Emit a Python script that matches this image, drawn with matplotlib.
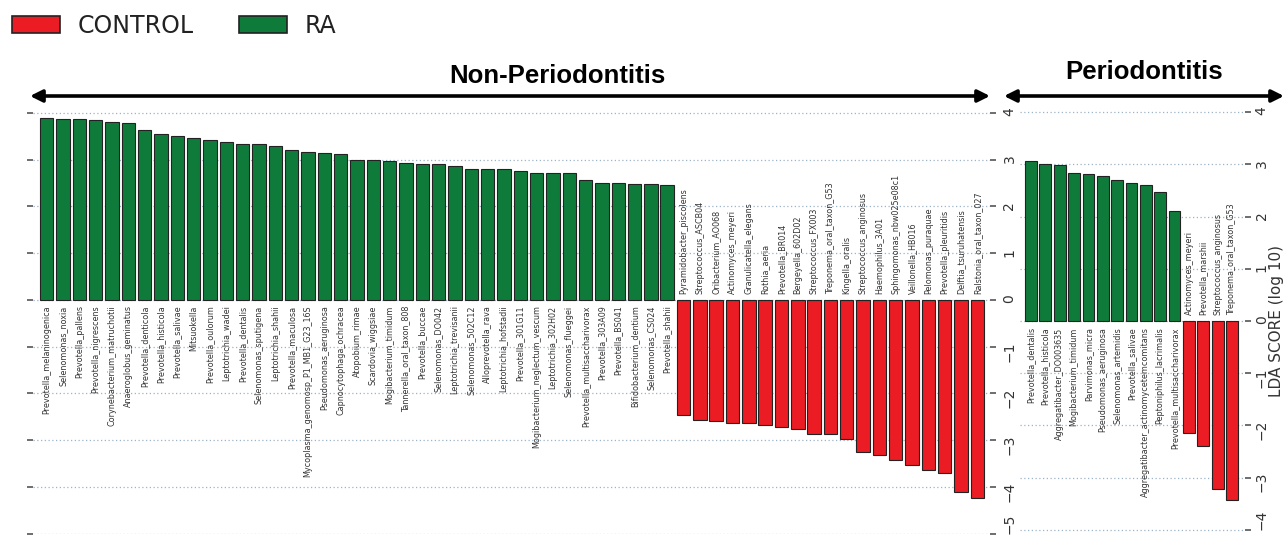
import matplotlib
matplotlib.use('Agg')
from matplotlib import pyplot as plt
from matplotlib.patches import Patch

# Non-Periodontitis panel
np_ra_names = ['Prevotella_melaninogenica', 'Selenomonas_noxia', 'Prevotella_pallens',
               'Prevotella_nigrescens', 'Corynebacterium_matruchotii', 'Anaeroglobus_geminatus',
               'Prevotella_denticola', 'Prevotella_histicola', 'Prevotella_salivae', 'Mitsuokella',
               'Prevotella_oulorum', 'Leptotrichia_wadei', 'Prevotella_dentalis',
               'Selenomonas_sputigena', 'Leptotrichia_shahii', 'Prevotella_maculosa',
               'Mycoplasma_genomosp_P1_MB1_G23_16S', 'Pseudomonas_aeruginosa',
               'Capnocytophaga_ochracea', 'Atopobium_rimae', 'Scardovia_wiggsiae',
               'Mogibacterium_timidum', 'Tannerella_oral_taxon_808', 'Prevotella_buccae',
               'Selenomonas_DO042', 'Leptotrichia_trevisanii', 'Selenomonas_502C12',
               'Alloprevotella_rava', 'Leptotrichia_hofstadii', 'Prevotella_301G11',
               'Mogibacterium_neglectum_vescum', 'Leptotrichia_302H02', 'Selenomonas_flueggei',
               'Prevotella_multisaccharivorax', 'Prevotella_303A09', 'Prevotella_BS041',
               'Bifidobacterium_dentium', 'Selenomonas_CS024', 'Prevotella_shahii']
np_ra_lda = [3.89, 3.87, 3.86, 3.85, 3.81, 3.78, 3.63, 3.56, 3.51, 3.47, 3.43, 3.38, 3.34,
             3.33, 3.30, 3.20, 3.16, 3.15, 3.12, 3.00, 2.99, 2.97, 2.93, 2.91, 2.90, 2.87,
             2.81, 2.80, 2.80, 2.75, 2.72, 2.71, 2.71, 2.57, 2.51, 2.51, 2.48, 2.48, 2.45]
np_ctrl_names = ['Pyramidobacter_piscolens', 'Streptococcus_ASCB04', 'Oribacterium_AO068',
                 'Actinomyces_meyeri', 'Granulicatella_elegans', 'Rothia_aeria',
                 'Prevotella_BR014', 'Bergeyella_602D02', 'Streptococcus_FX003',
                 'Treponema_oral_taxon_G53', 'Kingella_oralis', 'Streptococcus_anginosus',
                 'Haemophilus_3A01', 'Sphingomonas_nbw025e08c1', 'Veillonella_HB016',
                 'Pelomonas_puraquae', 'Prevotella_pleuritidis', 'Delftia_tsuruhatensis',
                 'Ralstonia_oral_taxon_027']
np_ctrl_lda = [-2.47, -2.58, -2.59, -2.63, -2.63, -2.67, -2.72, -2.77, -2.88, -2.88, -2.97,
               -3.25, -3.33, -3.42, -3.54, -3.63, -3.71, -4.12, -4.23]

# Periodontitis panel
p_ra_names = ['Prevotella_dentalis', 'Prevotella_histicola', 'Aggregatibacter_DO003635',
              'Mogibacterium_timidum', 'Parvimonas_micra', 'Pseudomonas_aeruginosa',
              'Selenomonas_artemidis', 'Prevotella_salivae',
              'Aggregatibacter_actinomycetemcomitans', 'Peptoniphilus_lacrimalis',
              'Prevotella_multisaccharivorax']
p_ra_lda = [3.07, 3.00, 2.98, 2.83, 2.81, 2.78, 2.70, 2.64, 2.60, 2.48, 2.10]
p_ctrl_names = ['Actinomyces_meyeri', 'Prevotella_marshii', 'Streptococcus_anginosus',
                'Treponema_oral_taxon_G53']
p_ctrl_lda = [-2.15, -2.40, -3.21, -3.42]

GREEN = '#0f7b3b'
RED = '#ec1c24'
GRID = '#9db3c6'

W, H = 1287, 535
fig = plt.figure(figsize=(W / 100, H / 100), dpi=100)


def panel(rect, ra_names, ra_lda, ctrl_names, ctrl_lda, xlim, ylim, yticks):
    ax = fig.add_axes(rect)
    names = ra_names + ctrl_names
    vals = ra_lda + ctrl_lda
    colors = [GREEN] * len(ra_lda) + [RED] * len(ctrl_lda)
    x = list(range(len(vals)))
    ax.bar(x, vals, width=0.82, color=colors, edgecolor='#222222', linewidth=0.8, zorder=3)
    for i, (n, v) in enumerate(zip(names, vals)):
        if v > 0:
            ax.text(i, -0.12, n, rotation=90, ha='center', va='top', fontsize=5.8,
                    color='#333333', zorder=4)
        else:
            ax.text(i, 0.12, n, rotation=90, ha='center', va='bottom', fontsize=5.8,
                    color='#333333', zorder=4)
    ax.set_xlim(*xlim)
    ax.set_ylim(*ylim)
    ax.set_yticks(list(yticks))
    ax.set_xticks([])
    ax.grid(axis='y', color=GRID, linestyle=(0, (1, 2)), linewidth=0.9, zorder=0)
    for s in ax.spines.values():
        s.set_visible(False)
    ax.tick_params(axis='y', labelrotation=90, labelsize=10, labelcolor='#333333',
                   color='#555555', length=4, width=1.2)
    return ax


ax1 = panel([33 / W, 0.001, 957 / W, 0.801], np_ra_names, np_ra_lda,
            np_ctrl_names, np_ctrl_lda, (-0.84, 57.77), (-5.02, 4.15), range(-5, 5))
ax1.tick_params(axis='y', left=True, labelleft=False, right=True, labelright=True, pad=5)

ax2 = panel([1020 / W, 0.0, 225 / W, 0.8], p_ra_names, p_ra_lda,
            p_ctrl_names, p_ctrl_lda, (-0.76, 14.9), (-4.1, 4.1), range(-4, 5))
ax2.tick_params(axis='y', left=False, labelleft=False, right=True, labelright=True, pad=3)
ax2.yaxis.set_label_position('right')
ax2.set_ylabel('LDA SCORE (log 10)', fontsize=11, color='#333333', rotation=90, labelpad=0)

# bottom tick labels sit just above the lower edge, as in the reference
fig.canvas.draw()
for ax in (ax1, ax2):
    ax.get_yticklabels(which='major')[0].set_va('bottom')
    for t in ax.yaxis.get_major_ticks()[:1]:
        t.label2.set_va('bottom')

# overlay in pixel coords for the group arrows and titles
ov = fig.add_axes([0, 0, 1, 1], facecolor='none')
ov.set_xlim(0, W)
ov.set_ylim(H, 0)
ov.axis('off')
arrow = dict(arrowstyle='<|-|>', lw=2.6, color='black', mutation_scale=18,
             shrinkA=0, shrinkB=0)
ov.annotate('', xy=(30, 96), xytext=(990, 96), arrowprops=arrow)
ov.annotate('', xy=(1004, 96), xytext=(1284, 96), arrowprops=arrow)
ov.text(557, 76, 'Non-Periodontitis', fontsize=18.5, fontweight='bold',
        family='Liberation Sans', ha='center', va='center')
ov.text(1144, 72, 'Periodontitis', fontsize=18.5, fontweight='bold',
        family='Liberation Sans', ha='center', va='center')

handles = [Patch(facecolor=RED, edgecolor='#222222', linewidth=1.2, label='CONTROL'),
           Patch(facecolor=GREEN, edgecolor='#222222', linewidth=1.2, label='RA')]
fig.legend(handles=handles, loc='upper left', bbox_to_anchor=(12 / W, 1 - 14 / H), ncol=2,
           frameon=False, fontsize=17, handlelength=2.03, handleheight=0.72,
           handletextpad=0.76, columnspacing=1.9, borderpad=0, borderaxespad=0,
           labelcolor='#222222')

fig.savefig('out.png', dpi=100)
